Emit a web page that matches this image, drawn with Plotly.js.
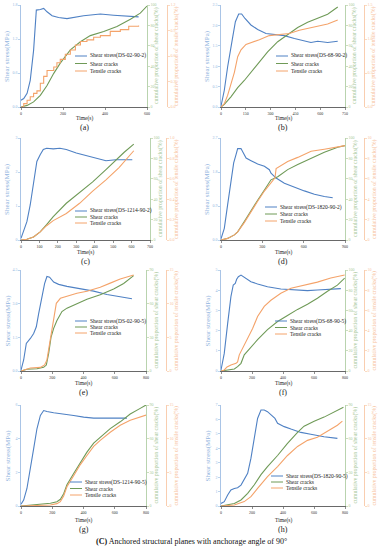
<!DOCTYPE html>
<html><head><meta charset="utf-8">
<script src="https://cdn.plot.ly/plotly-3.0.1.min.js"></script>
<style>html,body{margin:0;padding:0;background:#fff}#c{width:382px;height:550px}</style>
</head><body><div id="c"></div>
<script>
// ---------- data ----------
// (a) DS-02-90-2
const tA_s=[0,13,29,44,60,73,92,108,124,148,179,219,298,378,441,505,560];
const sA=[0.12,0.15,0.24,0.47,1.0,1.71,1.72,1.74,1.68,1.61,1.58,1.56,1.61,1.64,1.62,1.61,1.59];
const tA_g=[0,29,60,92,124,156,187,235,283,330,394,457,521,568,600];
const gA=[0,1.6,5,11.5,21,33,43,56,64,70,74,79,86,92,99];
const tA_o=[0,13,29,44,60,76,92,108,124,156,171,187,211,235,259,283,314,346,378,425,473,513,560];
const oA=[0,0.04,0.08,0.12,0.16,0.19,0.28,0.36,0.43,0.47,0.52,0.56,0.62,0.67,0.73,0.77,0.79,0.82,0.84,0.89,0.91,0.95,0.96];
// (b) DS-68-90-2
const tB_s=[0,20,40,54,71,87,107,125,145,181,222,272,323,383,444,504,544,585,645,706];
const sB=[0.02,0.41,0.98,1.35,1.72,2.09,2.28,2.28,2.17,2.01,1.90,1.80,1.78,1.75,1.68,1.61,1.58,1.61,1.58,1.61];
const tB_g=[0,20,60,101,141,181,222,282,343,403,464,524,585,645,706];
const gB=[0,2.6,10,19,26,34,43,54,64,71,78,83,87,91,98];
const tB_o=[0,20,40,60,81,101,121,151,192,232,292,353,413,474,534,595,645,706];
const oB=[0,0.05,0.17,0.35,0.51,0.74,0.84,0.92,0.95,0.99,1.05,1.07,1.08,1.13,1.16,1.19,1.22,1.28];
// (c) DS-1214-90-2
const tC_s=[0,14,32,50,68,86,104,121,139,175,211,246,300,354,407,461,514,550,604];
const sC=[0.05,0.25,0.54,1.03,1.72,2.31,2.51,2.66,2.70,2.68,2.70,2.66,2.56,2.49,2.41,2.33,2.36,2.36,2.36];
const tC_g=[0,32,68,104,139,175,246,318,389,461,505,560,612];
const gC=[0,0.7,3,8,15,23,36,47,57,69,77,86,94];
const tC_o=[0,32,68,104,139,175,246,318,389,461,532,612];
const oC=[0,0.007,0.03,0.08,0.14,0.19,0.26,0.36,0.48,0.59,0.71,0.875];
// (d) DS-1820-90-2
const tD_s=[0,24,48,73,92,109,121,145,157,182,218,266,315,351,363,400,460,533,605,678,750,811];
const sD=[0.03,0.31,0.93,1.55,2.04,2.26,2.42,2.42,2.35,2.17,2.10,2.01,1.95,1.86,1.77,1.64,1.50,1.39,1.30,1.21,1.15,1.12];
const tD_g=[0,48,97,121,169,218,266,315,363,412,484,557,654,750,847,900];
const gD=[0,1.6,5,8,18,29,39,49,59,62,69,74,80,86,91,92.5];
const tD_o=[0,48,97,121,169,218,266,315,363,392,400,424,484,557,654,750,847,900];
const oD=[0,0.16,0.5,0.8,1.7,2.8,3.8,4.8,5.6,6.1,7.0,7.2,7.7,8.1,8.7,8.9,9.1,9.25];
// (e) DS-02-90-5
const tE_s=[0,17,34,43,60,81,98,113,134,151,166,183,209,241,294,380,465,550,635,710];
const sE=[0.04,0.49,1.23,1.30,1.45,1.67,1.97,2.56,3.30,3.89,4.21,4.18,3.96,3.86,3.77,3.67,3.56,3.41,3.30,3.22];
const tE_g=[0,38,102,145,162,177,192,209,230,262,294,358,422,507,593,657,721];
const gE=[0,1.5,2,3.3,5.3,15.7,30,38,45,53,56,60,64,68,73,78,85];
const tE_o=[0,28,60,124,151,166,183,205,226,252,294,358,422,507,571,635,721];
const oE=[0,0.23,0.45,0.54,0.9,1.65,4.05,7.5,10.05,10.8,11.1,11.55,11.85,12.45,13.05,13.65,14.25];
// (f) DS-68-90-5
const tF_s=[0,21,43,64,79,92,101,112,129,150,193,236,300,386,472,558,622,708,773];
const sF=[0.05,0.87,2.36,3.68,4.26,4.34,4.54,4.67,4.75,4.64,4.42,4.31,4.17,4.06,4.01,3.98,4.01,4.06,4.08];
const tF_g=[0,43,86,107,129,150,193,236,300,365,429,494,558,622,687,751,798];
const gF=[0,1,2,4.3,7.6,16,24,31,41,49,55,61,66,72,79,85,92];
const tF_o=[0,21,39,64,97,107,118,139,172,204,236,279,322,386,451,536,622,708,798];
const oF=[0,0.1,0.4,0.6,0.76,0.9,1.6,2.2,3.2,4.2,5.4,6.4,7.0,7.7,8.2,8.5,8.8,9.2,9.5];
// (g) DS-1214-90-5
const tG_s=[0,17,38,60,81,102,124,145,166,209,273,337,401,465,550,614,678];
const sG=[0.1,0.35,1.04,2.13,3.41,4.59,5.38,5.67,5.61,5.54,5.48,5.38,5.28,5.22,5.22,5.22,5.22];
const tG_g=[0,81,188,230,252,273,294,337,380,422,465,507,571,635,699,763,800];
const gG=[0,0.9,2.4,3.8,6,11,19,29,39,48,56,61,69,75,82,87,90];
const tG_o=[0,81,188,230,252,273,294,337,380,422,465,507,571,635,699,800];
const oG=[0,0.05,0.15,0.35,0.65,1.5,2.85,4.5,6.15,7.5,8.85,9.75,10.95,12.0,12.75,13.5];
// (h) DS-1820-90-5
const tH_s=[0,21,43,64,86,107,129,150,172,193,215,236,258,279,300,322,333,348,365,408,451,515,579,665,751];
const sH=[0.18,0.3,0.76,1.11,1.22,1.27,1.45,1.80,2.26,3.30,4.69,6.07,6.65,6.65,6.54,6.30,6.19,6.07,5.73,5.50,5.33,5.10,4.97,4.80,4.69];
const tH_g=[0,43,86,129,172,215,258,300,365,429,494,536,601,665,751,790];
const gH=[0,0.9,2.3,5.4,11.3,18.9,27.9,35.1,45,55.8,65.7,71.1,75.6,79.2,85,88];
const tH_o=[0,86,150,193,236,300,365,429,494,558,622,687,751,783];
const oH=[0,0.15,0.65,1.38,2.63,4.35,5.85,7.5,8.85,9.75,10.2,11.1,12.0,12.6];

const panelLetters=['a','b','c','d','e','f','g','h'];
const specimen=['DS-02-90-2','DS-68-90-2','DS-1214-90-2','DS-1820-90-2','DS-02-90-5','DS-68-90-5','DS-1214-90-5','DS-1820-90-5'];
const legendLabels=['Shear cracks','Tensile cracks'];
const leftTitle='Shear stress(MPa)';
const greenTitle='cumulative proportion of shear cracks(%)';
const orangeTitle='cumulative proportion of tensile cracks(%)';
const xTitle='Time(s)';
const caption='<b>(C)</b> Anchored structural planes with anchorage angle of 90°';

// ---------- layout/config ----------
const W=382,H=550;
const px=x=>x/W, py=y=>1-y/H;
const BLUE='#4f81c4', GREEN='#6f9a57', ORANGE='#f4a36a';
const BLUE_AX='#93b5e0', GREEN_AX='#a8c89a', ORANGE_AX='#f7c29c';
const FONT='Liberation Serif, Times New Roman, serif';

const P=[
 {x:[21,147],y:[5,107],ox:167,xr:[0,600],xd:200,lr:[0,1.8],ld:0.6,lf:'.1f',gr:[0,100],gd:20,orr:[0,1.2],od:0.3,of:'.1f',ts:tA_s,s:sA,tg:tA_g,g:gA,to:tA_o,o:oA,shape:'hv',leg:[75,56,7.5]},
 {x:[221,345],y:[5,107],ox:364,xr:[0,750],xd:150,lr:[0,2.5],ld:0.5,lf:'.1f',gr:[0,100],gd:20,orr:[0,1.5],od:0.5,of:'.1f',ts:tB_s,s:sB,tg:tB_g,g:gB,to:tB_o,o:oB,leg:[276,56,7.5]},
 {x:[21,150],y:[138,240],ox:166,xr:[0,700],xd:100,lr:[0,3],ld:1,lf:'d',gr:[0,100],gd:20,orr:[0,1],od:0.2,of:'.1f',ts:tC_s,s:sC,tg:tC_g,g:gC,to:tC_o,o:oC,leg:[75,211,6]},
 {x:[221,345],y:[138,240],ox:364,xr:[0,900],xd:300,lr:[0,2.7],ld:0.9,lf:'.1f',gr:[0,100],gd:20,orr:[0,10],od:2,of:'d',ts:tD_s,s:sD,tg:tD_g,g:gD,to:tD_o,o:oD,leg:[265,207,7]},
 {x:[21,146],y:[270,371],ox:166,xr:[0,800],xd:200,lr:[0,4.5],ld:1.5,lf:'.1f',gr:[0,90],gd:30,orr:[0,15],od:5,of:'d',ts:tE_s,s:sE,tg:tE_g,g:gE,to:tE_o,o:oE,leg:[75,321,6]},
 {x:[221,345],y:[270,371],ox:364,xr:[0,800],xd:200,lr:[0,5],ld:1,lf:'d',gr:[0,100],gd:20,orr:[0,10],od:2,of:'d',ts:tF_s,s:sF,tg:tF_g,g:gF,to:tF_o,o:oF,leg:[275,321,6.5]},
 {x:[21,146],y:[405,506],ox:166,xr:[0,800],xd:200,lr:[0,6],ld:2,lf:'d',gr:[0,90],gd:30,orr:[0,15],od:5,of:'d',ts:tG_s,s:sG,tg:tG_g,g:gG,to:tG_o,o:oG,leg:[70,482,6.5]},
 {x:[221,345],y:[405,506],ox:364,xr:[0,800],xd:200,lr:[0,7],ld:1,lf:'d',gr:[0,90],gd:30,orr:[0,15],od:5,of:'d',ts:tH_s,s:sH,tg:tH_g,g:gH,to:tH_o,o:oH,leg:[271,476,6]}
];

const traces=[], shapes=[], ann=[];
const layout={width:W,height:H,margin:{l:0,r:0,t:0,b:0},paper_bgcolor:'#fff',plot_bgcolor:'rgba(0,0,0,0)',showlegend:false,font:{family:FONT}};
function axStyle(col,tcol){return {showline:true,linecolor:col,linewidth:0.8,ticks:'outside',ticklen:2,tickwidth:0.6,tickcolor:col,showgrid:false,zeroline:false,tickfont:{size:4,color:tcol,family:FONT}};}

P.forEach((p,i)=>{
  const n=i+1, xa='x'+n, yL='y'+(3*n-2), yG='y'+(3*n-1), yO='y'+(3*n);
  traces.push({x:p.ts,y:p.s,xaxis:xa,yaxis:yL,mode:'lines',line:{color:BLUE,width:1.1},name:'Shear stress('+specimen[i]+')'});
  traces.push({x:p.tg,y:p.g,xaxis:xa,yaxis:yG,mode:'lines',line:{color:GREEN,width:1.1},name:legendLabels[0]});
  traces.push({x:p.to,y:p.o,xaxis:xa,yaxis:yO,mode:'lines',line:{color:ORANGE,width:1.1,shape:p.shape||'linear'},name:legendLabels[1]});
  layout['xaxis'+n]=Object.assign(axStyle('#444','#333'),{domain:[px(p.x[0]),px(p.x[1])],anchor:yL,range:p.xr,dtick:p.xd,tick0:0});
  layout['yaxis'+(3*n-2)]=Object.assign(axStyle(BLUE_AX,BLUE_AX),{domain:[py(p.y[1]),py(p.y[0])],anchor:xa,range:p.lr,dtick:p.ld,tick0:0,tickformat:p.lf});
  layout['yaxis'+(3*n-1)]=Object.assign(axStyle(GREEN_AX,GREEN_AX),{overlaying:yL,side:'right',anchor:xa,range:p.gr,dtick:p.gd,tick0:0});
  layout['yaxis'+(3*n)]=Object.assign(axStyle(ORANGE_AX,ORANGE_AX),{overlaying:yL,side:'right',anchor:'free',position:px(p.ox),range:p.orr,dtick:p.od,tick0:0,tickformat:p.of});
  const cx=(p.x[0]+p.x[1])/2, cy=(p.y[0]+p.y[1])/2;
  const A=(x,y,text,size,color,angle,xa2)=>ann.push({xref:'paper',yref:'paper',x:px(x),y:py(y),text:text,showarrow:false,xanchor:xa2||'center',yanchor:'middle',textangle:angle||0,font:{family:FONT,size:size,color:color}});
  A(p.x[0]-14,cy,leftTitle,7,BLUE_AX,-90);
  A(p.x[1]+10,cy,greenTitle,5.8,GREEN_AX,-90);
  A(p.ox+10,cy,orangeTitle,5.8,ORANGE_AX,-90);
  A(cx,p.y[1]+(i<6?12:14),xTitle,5.5,'#222');
  A(cx,p.y[1]+(i<6?21:23),'('+panelLetters[i]+')',8,'#222');
  const [lx,ly,dy]=p.leg;
  const labs=['Shear stress('+specimen[i]+')',legendLabels[0],legendLabels[1]];
  [BLUE,GREEN,ORANGE].forEach((c,k)=>{
    shapes.push({type:'line',xref:'paper',yref:'paper',x0:px(lx),x1:px(lx+12),y0:py(ly+k*dy),y1:py(ly+k*dy),line:{color:c,width:1}});
    A(lx+13,ly+k*dy,labs[k],5.5,'#222',0,'left');
  });
});
ann.push({xref:'paper',yref:'paper',x:0.5,y:py(541),text:caption,showarrow:false,xanchor:'center',yanchor:'middle',font:{family:FONT,size:8,color:'#111'}});
layout.shapes=shapes; layout.annotations=ann;
Plotly.newPlot('c',traces,layout,{staticPlot:true,displayModeBar:false});
</script></body></html>
